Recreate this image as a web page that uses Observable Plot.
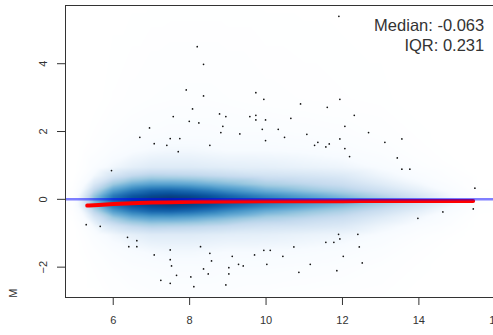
<!DOCTYPE html>
<html><head><meta charset="utf-8">
<script src="https://cdn.jsdelivr.net/npm/d3@7"></script>
<script src="https://cdn.jsdelivr.net/npm/@observablehq/plot@0.6"></script>
<style>html,body{margin:0;padding:0;overflow:hidden;background:#fff}</style>
</head><body><div id="chart"></div>
<script>
// outlier points (A, M)
const pointA = [8.199,8.364,7.911,8.364,8.076,7.571,8.783,8.948,9.576,7.990,8.241,8.869,6.950,8.817,9.314,6.696,7.492,7.743,7.073,7.403,8.529,7.702,5.955,
  11.906,9.733,9.942,11.932,10.903,11.602,9.733,9.733,9.987,10.649,12.309,12.063,9.901,10.319,12.683,11.068,10.484,11.932,13.555,9.987,13.110,11.356,11.270,11.654,11.565,12.063,12.186,13.435,13.555,13.764,
  15.466,15.424,14.628,13.974,11.898,12.403,11.932,11.565,11.775,10.728,12.440,9.942,10.110,9.699,10.440,12.021,10.021,11.157,12.518,10.859,11.853,
  5.293,5.660,6.374,6.618,6.408,6.618,7.492,8.285,7.073,8.529,9.115,7.492,8.573,7.526,9.280,9.403,9.026,8.364,8.487,9.026,7.657,8.031,7.246,7.492,8.948,8.110];
const pointM = [4.504,3.982,3.227,3.050,2.667,2.440,2.519,2.440,2.440,2.301,2.254,2.153,2.106,1.968,1.929,1.829,1.791,1.791,1.643,1.593,1.593,1.407,0.847,
  5.398,3.147,2.950,2.950,2.814,2.714,2.478,2.342,2.342,2.389,2.478,2.153,2.065,2.065,1.968,1.917,1.829,1.782,1.782,1.732,1.681,1.681,1.593,1.634,1.546,1.496,1.260,1.221,0.891,0.891,
  0.330,-0.283,-0.372,-0.560,-1.032,-1.032,-1.168,-1.268,-1.268,-1.404,-1.404,-1.504,-1.504,-1.640,-1.681,-1.681,-1.917,-1.917,-1.876,-2.153,-2.103,
  -0.746,-0.796,-1.121,-1.218,-1.395,-1.395,-1.493,-1.395,-1.640,-1.593,-1.681,-1.779,-1.817,-1.965,-1.917,-1.965,-2.015,-2.053,-2.201,-2.201,-2.242,-2.289,-2.389,-2.478,-2.525,-2.575];

// loess curve
const loessA = [5.32,5.6,6.0,6.5,7.0,7.5,8,9,10,11,12,13,14,15,15.42];
const loessM = [-0.185,-0.165,-0.14,-0.115,-0.095,-0.082,-0.072,-0.062,-0.057,-0.054,-0.053,-0.052,-0.051,-0.05,-0.05];

// smoothed density (visual intensity 0..1)
const densA = [4.5,4.95,5.2,5.5,6.0,6.5,7.0,7.5,8.0,8.5,9.0,10,11,12,13,14,15,15.6,17];
const densCenter = -0.05;
const densOffsets = [0,0.15,0.3,0.5,0.75,1,1.5,2,3,6.5];
const densRows = [
  [0,0,0,0,0,0,0,0,0,0],
  [0.03,0.03,0.02,0.01,0,0,0,0,0,0],
  [0.22,0.2,0.14,0.08,0.04,0.02,0.01,0,0,0],
  [0.5,0.46,0.36,0.24,0.13,0.07,0.03,0.015,0,0],
  [0.8,0.75,0.62,0.44,0.26,0.14,0.07,0.04,0.015,0],
  [0.92,0.87,0.75,0.55,0.34,0.19,0.1,0.06,0.025,0],
  [0.98,0.92,0.82,0.6,0.38,0.22,0.12,0.07,0.035,0],
  [1,0.94,0.83,0.6,0.37,0.22,0.13,0.08,0.04,0],
  [0.98,0.92,0.8,0.58,0.36,0.22,0.13,0.08,0.04,0],
  [0.94,0.88,0.75,0.54,0.34,0.21,0.12,0.08,0.04,0],
  [0.88,0.82,0.68,0.5,0.32,0.2,0.11,0.07,0.035,0],
  [0.78,0.7,0.56,0.41,0.28,0.19,0.11,0.07,0.025,0],
  [0.68,0.6,0.48,0.36,0.26,0.17,0.1,0.06,0.02,0],
  [0.58,0.5,0.4,0.31,0.23,0.15,0.08,0.05,0.015,0],
  [0.46,0.38,0.3,0.22,0.15,0.1,0.055,0.03,0.01,0],
  [0.3,0.25,0.19,0.13,0.08,0.045,0.02,0.01,0,0],
  [0.13,0.1,0.07,0.045,0.025,0.01,0,0,0,0],
  [0.02,0.015,0.01,0,0,0,0,0,0,0],
  [0,0,0,0,0,0,0,0,0,0]
];
const blues9 = ["#F7FBFF","#DEEBF7","#C6DBEF","#9ECAE1","#6BAED6","#4292C6","#2171B5","#08519C","#08306B"];

const xTicks = [6,8,10,12,14,16];
const yTicks = [-2,0,2,4];
const statsText = ["Median: -0.063", "IQR: 0.231"];
const yLabel = "M";

const points = pointA.map((a, i) => ({a, m: pointM[i]}));
const loess = loessA.map((a, i) => ({a, m: loessM[i]}));
const dens = [];
densA.forEach((a, i) => {
  densOffsets.forEach((o, j) => {
    dens.push({a, m: densCenter + o, v: densRows[i][j]});
    if (o > 0) dens.push({a, m: densCenter - o, v: densRows[i][j]});
  });
});

const W = 493, H = 335, ML = 65, MT = 5, MB = 38, MR = -40;
const frameW = W - ML - MR, frameH = H - MT - MB;
const tickLen = 8;

const chart = Plot.plot({
  width: W,
  height: H,
  marginLeft: ML,
  marginTop: MT,
  marginBottom: MB,
  marginRight: MR,
  style: {fontFamily: "'Liberation Sans', Arial, Helvetica, sans-serif", background: "#fff", color: "#333", overflow: "visible"},
  x: {domain: [4.751, 17.0]},
  y: {domain: [-2.895, 5.717]},
  color: {type: "linear", domain: [0, 1], interpolate: d3.piecewise(d3.interpolateRgb, ["#FFFFFF", ...blues9])},
  marks: [
    Plot.raster(dens, {x: "a", y: "m", fill: "v", interpolate: "barycentric"}),
    Plot.dot(points, {x: "a", y: "m", r: 0.85, fill: "#111", stroke: null}),
    Plot.line(loess, {x: "a", y: "m", stroke: "#FF0000", strokeWidth: 4, curve: "basis"}),
    Plot.ruleY([0], {stroke: "#0000FF", strokeOpacity: 0.5, strokeWidth: 2.5}),
    Plot.frame({stroke: "#333", strokeWidth: 1}),
    // tick marks
    Plot.ruleX(xTicks, {x: d => d, insetTop: frameH, insetBottom: -tickLen, stroke: "#333", strokeWidth: 1}),
    Plot.ruleY(yTicks, {y: d => d, insetRight: frameW, insetLeft: -tickLen, stroke: "#333", strokeWidth: 1}),
    Plot.axisX(xTicks, {tickSize: 0, tickPadding: 19, fontSize: 11, label: null}),
    Plot.axisY(yTicks, {tickSize: 0, tickPadding: 22, fontSize: 11, rotate: -90, textAnchor: "middle", label: null}),
    Plot.text([statsText.join("\n")], {frameAnchor: "top-right", textAnchor: "end", lineAnchor: "top", dx: -49.3, dy: 11.7, fontSize: 16.5, lineHeight: 1.21, fill: "#333"}),
    Plot.text([yLabel], {frameAnchor: "bottom-left", dx: -52.3, dy: -4.3, rotate: -90, fontSize: 11, fill: "#333", textAnchor: "middle", lineAnchor: "middle"})
  ]
});
document.getElementById("chart").append(chart);
</script>
</body></html>
